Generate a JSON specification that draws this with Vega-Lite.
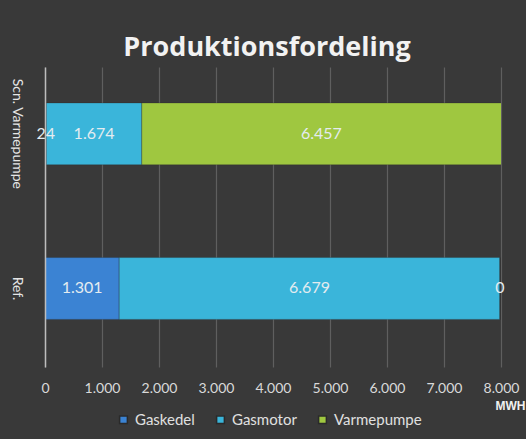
{
  "$schema": "https://vega.github.io/schema/vega-lite/v6.json",
  "width": 456,
  "height": 300,
  "autosize": {"type": "none"},
  "padding": {"left": 45, "top": 67, "right": 25, "bottom": 72},
  "background": "#393939",
  "config": {
    "locale": {"number": {"decimal": ",", "thousands": ".", "grouping": [3], "currency": ["", " kr"]}},
    "view": {"stroke": null},
    "font": "Lato",
    "axisX": {"grid": true, "gridColor": "#5f5f5f", "gridWidth": 1.2, "gridOpacity": 1, "ticks": false, "domain": false}
  },
  "title": {
    "text": "Produktionsfordeling",
    "font": "Open Sans",
    "fontSize": 27,
    "fontWeight": "bold",
    "color": "#f2f2f2",
    "anchor": "middle",
    "offset": 5,
    "dx": -6
  },
  "data": {
    "values": [
      {"scenario": "Scn. Varmepumpe", "type": "Gaskedel", "value": 24, "order": 1},
      {"scenario": "Scn. Varmepumpe", "type": "Gasmotor", "value": 1674, "order": 2},
      {"scenario": "Scn. Varmepumpe", "type": "Varmepumpe", "value": 6457, "order": 3},
      {"scenario": "Ref.", "type": "Gaskedel", "value": 1301, "order": 1},
      {"scenario": "Ref.", "type": "Gasmotor", "value": 6679, "order": 2},
      {"scenario": "Ref.", "type": "Varmepumpe", "value": 0, "order": 3}
    ]
  },
  "transform": [
    {"stack": "value", "groupby": ["scenario"], "sort": [{"field": "order"}], "as": ["x0", "x1"]},
    {"calculate": "(datum.x0 + min(datum.x1, 8000)) / 2", "as": "mid"}
  ],
  "encoding": {
    "y": {
      "field": "scenario",
      "type": "nominal",
      "sort": ["Scn. Varmepumpe", "Ref."],
      "scale": {"paddingInner": 0.6, "paddingOuter": 0.27, "align": 0.43},
      "axis": {
        "title": null,
        "labelAngle": 90,
        "labelAlign": "center",
        "labelBaseline": "top",
        "labelPadding": 22,
        "labelFontSize": 14,
        "labelColor": "#e6e6e6",
        "ticks": false,
        "domain": true,
        "domainColor": "#bdbdbd",
        "domainWidth": 1.5,
        "grid": false,
        "zindex": 1
      }
    }
  },
  "layer": [
    {
      "mark": {"type": "bar", "clip": true, "stroke": "#2a2a2a", "strokeWidth": 0.5, "strokeOpacity": 0.6},
      "encoding": {
        "x": {
          "field": "x0",
          "type": "quantitative",
          "scale": {"domain": [0, 8000], "nice": false},
          "axis": {
            "values": [0, 1000, 2000, 3000, 4000, 5000, 6000, 7000, 8000],
            "format": ",.0f",
            "title": "MWH",
            "titleFontSize": 12,
            "titleFontWeight": "bold",
            "titleColor": "#f0f0f0",
            "titleFont": "Liberation Sans",
            "titleAnchor": "end",
            "titleAlign": "center",
            "titleX": 465,
            "titleY": 38,
            "titleBaseline": "middle",
            "labelFontSize": 14,
            "labelColor": "#d9d9d9",
            "labelPadding": 21,
            "labelFlush": false,
            "labelBaseline": "middle",
            "grid": true,
            "gridColor": "#5f5f5f"
          }
        },
        "x2": {"field": "x1"},
        "color": {
          "field": "type",
          "type": "nominal",
          "scale": {
            "domain": ["Gaskedel", "Gasmotor", "Varmepumpe"],
            "range": ["#3b83d3", "#3ab5da", "#9fc740"]
          },
          "legend": {
            "title": null,
            "orient": "none",
            "direction": "horizontal",
            "legendX": 71,
            "legendY": 345,
            "symbolType": "square",
            "symbolSize": 60,
            "labelFontSize": 15,
            "labelColor": "#e0e0e0",
            "columnPadding": 18,
            "labelOffset": 4
          }
        }
      }
    },
    {
      "mark": {"type": "text", "fontSize": 16, "color": "#e4ecf0", "align": "center", "baseline": "middle"},
      "encoding": {
        "x": {
          "field": "mid",
          "type": "quantitative",
          "axis": {
            "values": [0, 1000, 2000, 3000, 4000, 5000, 6000, 7000, 8000],
            "format": ",.0f",
            "title": "MWH",
            "grid": true,
            "gridColor": "#5f5f5f"
          }
        },
        "text": {"field": "value", "type": "quantitative", "format": ",.0f"}
      }
    }
  ]
}
